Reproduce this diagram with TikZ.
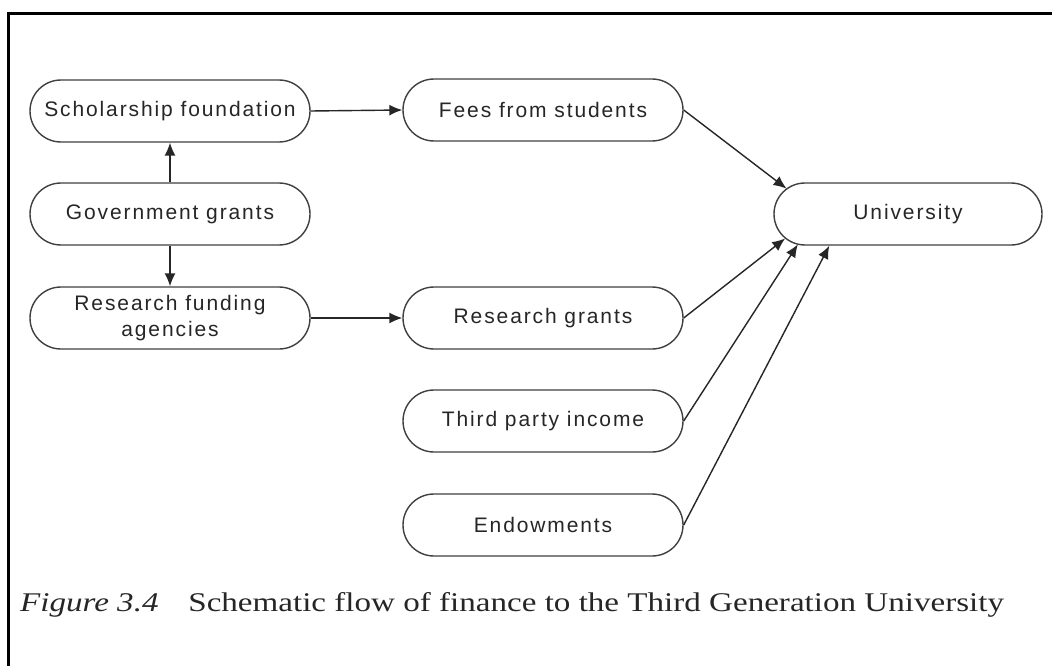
\documentclass[tikz,border=0pt]{standalone}
\usepackage{graphicx}
\usepackage{fontspec}
\setmainfont{Liberation Serif}
\newfontfamily\nodefont[LetterSpace=9]{Liberation Sans}
\usetikzlibrary{arrows.meta,calc}
\begin{document}
\begin{tikzpicture}[x=1pt,y=1pt,
  box/.style={draw=black!75, line width=1.4pt, rounded corners=31pt,
    minimum width=280pt, minimum height=62pt, inner sep=0pt,
    font=\nodefont\fontsize{21}{26}\selectfont, text=black!85, align=center},
  arr/.style={draw=black!85, line width=1.4pt, -{Latex[length=13pt,width=11pt]}}]
\useasboundingbox (0,0) rectangle (1052,-666);
\fill[white] (0,0) rectangle (1052,-666);
% frame
\draw[line width=3pt] (8,-666) -- (8,-13.5) -- (1052,-13.5);
% nodes
\node[box] (sch) at (170,-111) {Scholarship foundation};
\node[box] (gov) at (170,-214) {Government grants};
\node[box] (rfa) at (170,-318) {Research funding\\agencies};
\node[box] (fees) at (543,-110) {Fees from students};
\node[box] (rg) at (543,-318) {Research grants};
\node[box] (tp) at (543,-421) {Third party income};
\node[box] (endw) at (543,-525) {Endowments};
\node[box, minimum width=268pt] (uni) at (908,-214) {University};
\coordinate (uc) at ($(uni.west)+(31,0)$);
% connectors
\draw[arr] (gov.north) -- (sch.south);
\draw[arr] (gov.south) -- (rfa.north);
\draw[arr] (sch.east) -- (fees.west);
\draw[arr] (rfa.east) -- (rg.west);
\draw[arr] (fees.east) -- ($(uc)+(125:31)$);
\draw[arr] (rg.east) -- ($(uc)+(232:31)$);
\draw[arr] (tp.east) -- ($(uc)+(258:31)$);
\draw[arr] (endw.east) -- ($(uni.south west)+(56,0)$);
% caption
\node[anchor=base west, inner sep=0pt, text=black!85, font=\fontsize{27}{32}\selectfont] (cap) at (20,-611)
  {\scalebox{1.225}[1]{\textit{Figure 3.4}\hspace{0.9em}Schematic flow of finance to the Third Generation University}};
\end{tikzpicture}
\end{document}
